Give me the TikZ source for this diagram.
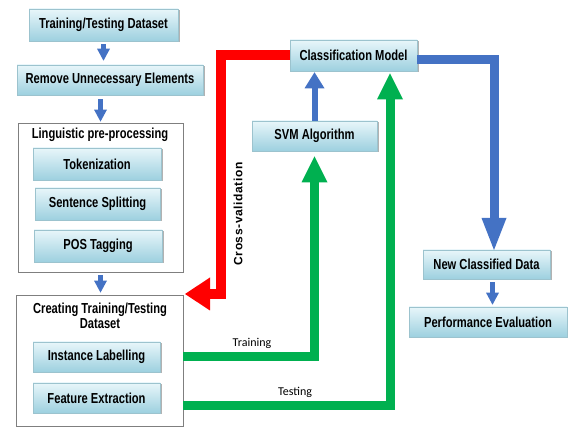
\documentclass[tikz,border=0pt]{standalone}
\usepackage{fontspec}
\setmainfont{Liberation Sans}
\newfontfamily\narrowfont{Liberation Sans}[FakeStretch=0.77]
\newfontfamily\spacedfont{Liberation Sans}[LetterSpace=5]
\newfontfamily\labelfont{Carlito}
\usetikzlibrary{arrows.meta,shadows,calc}
\definecolor{bxtop}{HTML}{E8F6FA}
\definecolor{bxbot}{HTML}{9DD0DF}
\definecolor{bxline}{HTML}{9CC3CE}
\definecolor{arrblue}{HTML}{4472C4}
\definecolor{arrgreen}{HTML}{00B050}
\definecolor{arrred}{HTML}{FF0000}
\definecolor{framegray}{HTML}{7F7F7F}
\begin{document}
\begin{tikzpicture}[x=1pt,y=-1pt,
  bx/.style={draw=bxline, line width=0.6pt, top color=bxtop, bottom color=bxbot,
    inner sep=0pt, font=\narrowfont\bfseries\fontsize{14.5}{16}\selectfont,
    drop shadow={shadow xshift=1.5pt,shadow yshift=-1.5pt,fill=black,opacity=0.3}},
  frm/.style={draw=framegray, line width=0.8pt, fill=white, inner sep=0pt},
  ttl/.style={inner sep=0pt, align=center, font=\narrowfont\bfseries\fontsize{14.5}{15}\selectfont},
  lbl/.style={inner sep=0pt, font=\labelfont\fontsize{12}{14}\selectfont},
  garrow/.style={draw=arrgreen, line width=9pt, -{Triangle[width=26pt,length=26pt,line width=0pt]}},
  rarrow/.style={draw=arrred, line width=10pt, -{Triangle[width=33pt,length=25pt,line width=0pt]}},
  barrow/.style={draw=arrblue, line width=9pt, -{Triangle[width=25pt,length=32pt,line width=0pt]}},
  sarrow/.style={draw=arrblue, line width=6pt, -{Triangle[width=20pt,length=16pt,line width=0pt]}},
  tarrow/.style={draw=arrblue, line width=5pt, -{Triangle[width=13pt,length=12pt,line width=0pt]}}
]
\useasboundingbox (0,0) rectangle (568,427);

% outer frames
\node[frm, minimum width=165pt, minimum height=149pt] (ling) at (100.5,197.5) {};
\node[frm, minimum width=167pt, minimum height=131pt] (create) at (99.5,360.5) {};
\node[ttl] (lingt) at (100,135) {Linguistic pre-processing};
\node[ttl] (creat) at (100,315.5) {Creating Training/Testing\\Dataset};

% boxes
\node[bx, minimum width=149pt, minimum height=32pt] (ttd) at (103.5,25) {Training/Testing Dataset};
\node[bx, minimum width=186pt, minimum height=30pt] (rue) at (110,80) {Remove Unnecessary Elements};
\node[bx, minimum width=128pt, minimum height=32pt] (tok) at (97,164) {Tokenization};
\node[bx, minimum width=125pt, minimum height=32pt] (ss) at (97.5,204) {Sentence Splitting};
\node[bx, minimum width=128pt, minimum height=32pt] (pos) at (98,246) {POS Tagging};
\node[bx, minimum width=127pt, minimum height=30pt] (il) at (96.5,357) {Instance Labelling};
\node[bx, minimum width=127pt, minimum height=30pt] (fe) at (96.5,398) {Feature Extraction};
\node[bx, minimum width=127pt, minimum height=31pt] (cm) at (353.5,55.5) {Classification Model};
\node[bx, minimum width=125pt, minimum height=30pt] (svm) at (314.5,136) {SVM Algorithm};
\node[bx, minimum width=127pt, minimum height=29pt] (ncd) at (486.5,264.5) {New Classified Data};
\node[bx, minimum width=158pt, minimum height=30pt] (pe) at (488,322) {Performance Evaluation};

% labels
\node[lbl] (trl) at (252,343) {Training};
\node[lbl] (tsl) at (295,392) {Testing};
\node[rotate=90, inner sep=0pt, font=\spacedfont\bfseries\fontsize{12}{14}\selectfont] (cvl) at (238,214) {Cross-validation};

% coordinates
\coordinate (tstart) at ($(create.east |- fe)+(0,8)$);
\coordinate (tend) at ($(cm.south)+(36.5,0)$);
\coordinate (cvbend) at (221,294);
\coordinate (cvtip) at (185,294);
\coordinate (bstart) at ($(cm.east)+(0,4.5)$);
\coordinate (ncdin) at (494,250);
\coordinate (np) at ($(ncd.south)+(6,0)$);

% connectors
\draw[garrow, shorten >=5pt] (create.east |- il) -| (svm.south);
\draw[garrow, shorten >=2pt] (tstart) -| (tend);
\draw[rarrow] (cm.west) -| (cvbend) -- (cvtip);
\draw[barrow] (bstart) -| (ncdin);
\draw[sarrow, shorten >=1pt] (svm.north) -- (svm.north |- cm.south);
\draw[tarrow, shorten <=3pt, shorten >=4pt] (ttd.south) -- (ttd.south |- rue.north);
\draw[tarrow, shorten <=4pt, shorten >=1pt] (ling.north |- rue.south) -- (ling.north);
\draw[tarrow, shorten <=3pt, shorten >=2pt] (ling.south) -- (ling.south |- create.north);
\draw[tarrow, shorten <=3pt, shorten >=2pt] (np) -- (np |- pe.north);
\end{tikzpicture}
\end{document}
